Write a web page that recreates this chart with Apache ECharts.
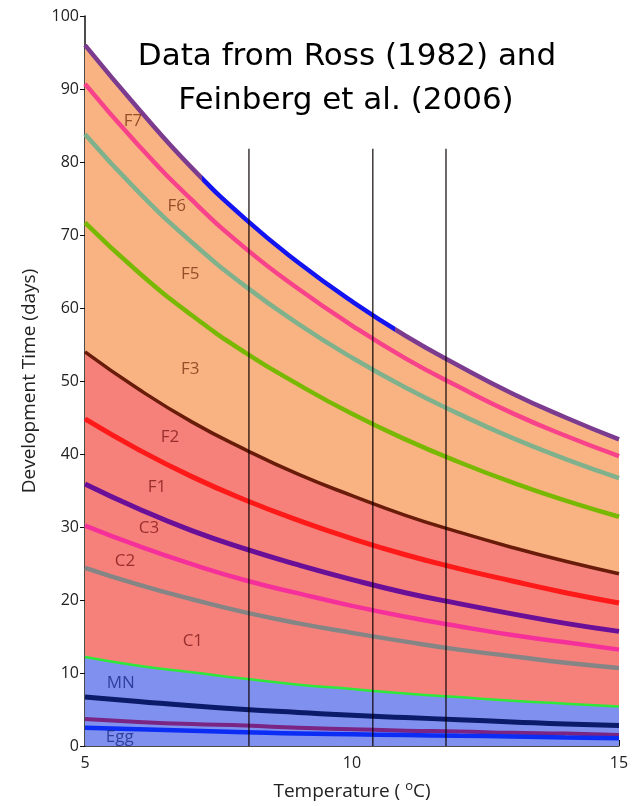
<!DOCTYPE html>
<html>
<head>
<meta charset="utf-8">
<script src="https://cdn.jsdelivr.net/npm/echarts@6/dist/echarts.min.js"></script>
<style>
  html, body { margin: 0; padding: 0; background: #fff; }
  #main { width: 638px; height: 806px; }
</style>
</head>
<body>
<div id="main"></div>
<script>
// temperature (°C) where the curves were read
var temps = [5, 6, 7, 8, 9, 10, 11, 12, 13, 14, 15];

// development time (days), top curve first
var adultTop = [96.0, 87.3, 79.2, 72.2, 66.2, 60.9, 56.2, 52.1, 48.3, 45.0, 42.0];
var f7 = [90.7, 82.3, 74.8, 68.2, 62.6, 57.6, 53.1, 49.2, 45.6, 42.5, 39.7];
var f6 = [83.8, 75.9, 69.0, 63.0, 57.8, 53.2, 49.1, 45.5, 42.2, 39.3, 36.7];
var f5 = [71.7, 64.9, 59.0, 53.9, 49.5, 45.5, 42.0, 38.9, 36.1, 33.6, 31.4];
var f3 = [54.0, 48.9, 44.4, 40.6, 37.2, 34.3, 31.6, 29.3, 27.2, 25.3, 23.6];
var f2 = [44.8, 40.6, 36.9, 33.7, 30.9, 28.4, 26.2, 24.3, 22.6, 21.0, 19.6];
var f1 = [35.9, 32.5, 29.5, 27.0, 24.8, 22.8, 21.0, 19.5, 18.1, 16.8, 15.7];
var c3 = [30.2, 27.4, 24.9, 22.7, 20.9, 19.2, 17.7, 16.4, 15.2, 14.2, 13.2];
var c2 = [24.4, 22.1, 20.1, 18.3, 16.8, 15.5, 14.3, 13.2, 12.3, 11.4, 10.7];
var c1 = [12.2, 11.0, 10.1, 9.2, 8.4, 7.8, 7.2, 6.7, 6.2, 5.8, 5.4];
var mn = [6.7, 6.1, 5.5, 5.0, 4.6, 4.2, 3.9, 3.6, 3.3, 3.0, 2.8];
var nauplius = [3.7, 3.3, 3.0, 2.8, 2.5, 2.3, 2.1, 2.0, 1.8, 1.7, 1.5];
var egg = [2.5, 2.3, 2.1, 1.9, 1.7, 1.6, 1.5, 1.4, 1.3, 1.15, 1.05];

// vertical marker lines
var vlineX = [8.07, 10.39, 11.76];
var vlineTop = 81.8;

// stage labels
var labelNames = ['F7', 'F6', 'F5', 'F3', 'F2', 'F1', 'C3', 'C2', 'C1', 'MN', 'Egg'];
var labelX = [5.9, 6.72, 6.97, 6.97, 6.59, 6.35, 6.2, 5.75, 7.02, 5.67, 5.65];
var labelY = [85.6, 74.0, 64.6, 51.6, 42.3, 35.4, 29.9, 25.3, 14.4, 8.6, 1.2];
var labelColors = ['#7e3512', '#7e3512', '#7e3512', '#7e3512', '#821818', '#821818',
                   '#821818', '#821818', '#821818', '#1a2a8c', '#1a2a8c'];

function pairs(ys) {
  var out = []
  for (var i = 0; i < temps.length; i++) {
    out.push([temps[i], ys[i]])
  }
  return out
}

function area(ys, color) {
  return {
    type: 'line',
    data: pairs(ys),
    smooth: true,
    symbol: 'none',
    lineStyle: { width: 0 },
    areaStyle: { color: color, opacity: 1 },
    z: 1,
    silent: true
  }
}

function curve(ys, color, width) {
  var s = {
    type: 'line',
    data: pairs(ys),
    smooth: true,
    symbol: 'none',
    lineStyle: { width: width || 4.5 },
    z: 4,
    silent: true
  }
  if (color) s.lineStyle.color = color
  return s
}

var series = [
  area(adultTop, '#f9b383'),
  area(f3, '#f6817b'),
  area(c1, '#8090ef')
]

// vertical lines
for (var v = 0; v < vlineX.length; v++) {
  series.push({
    type: 'line',
    data: [[vlineX[v], 0], [vlineX[v], vlineTop]],
    symbol: 'none',
    lineStyle: { color: 'rgba(10,0,0,0.9)', width: 1.3 },
    z: 5,
    silent: true
  })
}

// top curve gets its colour from the visualMap (purple / blue / purple)
series.push(curve(adultTop, null, 4.5))
var topIndex = series.length - 1
series.push(curve(f7, '#f8428a'))
series.push(curve(f6, '#7fb18c'))
series.push(curve(f5, '#78b800'))
series.push(curve(f3, '#6a1c0a', 3.5))
series.push(curve(f2, '#ff1a1a', 5))
series.push(curve(f1, '#6a0f98', 5))
series.push(curve(c3, '#f5309a', 4.5))
series.push(curve(c2, '#858585', 4.5))
series.push(curve(c1, '#2ee83a', 2.5))
series.push(curve(mn, '#0c1a6a', 5))
series.push(curve(nauplius, '#7a2484', 4))
series.push(curve(egg, '#0a2cf5', 4.5))

// stage labels
var labelData = []
for (var k = 0; k < labelNames.length; k++) {
  labelData.push({
    value: [labelX[k], labelY[k]],
    name: labelNames[k],
    label: { color: labelColors[k] }
  })
}
series.push({
  type: 'scatter',
  data: labelData,
  symbolSize: 1,
  itemStyle: { color: 'transparent' },
  label: {
    show: true,
    position: 'inside',
    formatter: '{b}',
    fontFamily: 'Open Sans',
    fontSize: 17
  },
  z: 6,
  silent: true
})

var chart = echarts.init(document.getElementById('main'))
chart.setOption({
  animation: false,
  backgroundColor: '#fff',
  grid: { left: 85, right: 19, top: 16, bottom: 55 },
  visualMap: {
    show: false,
    type: 'piecewise',
    seriesIndex: topIndex,
    dimension: 0,
    pieces: [
      { lt: 7.2, color: '#7b3c90' },
      { gte: 7.2, lt: 10.8, color: '#1414f0' },
      { gte: 10.8, color: '#7b3c90' }
    ]
  },
  graphic: [
    {
      type: 'text', x: 347, y: 57, z: 10,
      style: {
        text: 'Data from Ross (1982) and',
        fontFamily: 'Comic Sans MS, DejaVu Sans',
        fontSize: 31, fill: '#000',
        textAlign: 'center', textVerticalAlign: 'middle'
      }
    },
    {
      type: 'text', x: 346, y: 101, z: 10,
      style: {
        text: 'Feinberg et al. (2006)',
        fontFamily: 'Comic Sans MS, DejaVu Sans',
        fontSize: 31, fill: '#000',
        textAlign: 'center', textVerticalAlign: 'middle'
      }
    }
  ],
  xAxis: {
    type: 'value',
    min: 5,
    max: 15,
    interval: 5,
    name: 'Temperature ( {s|o}C)',
    nameLocation: 'middle',
    nameGap: 34,
    nameTextStyle: {
      fontFamily: 'Open Sans', fontSize: 19, color: '#222',
      rich: { s: { fontFamily: 'Open Sans', fontSize: 13, verticalAlign: 'top', padding: [0, 0, 10, 0], color: '#222' } }
    },
    splitLine: { show: false },
    axisLine: { onZero: false, lineStyle: { color: '#111', width: 1.5 } },
    axisTick: { inside: true, length: 6, lineStyle: { color: '#111' } },
    axisLabel: { fontFamily: 'Open Sans', fontSize: 16, color: '#222', margin: 9 }
  },
  yAxis: {
    type: 'value',
    min: 0,
    max: 100,
    interval: 10,
    name: 'Development Time (days)',
    nameLocation: 'middle',
    nameGap: 46,
    nameTextStyle: { fontFamily: 'Open Sans', fontSize: 19, color: '#222' },
    splitLine: { show: false },
    axisLine: { show: true, lineStyle: { color: '#111', width: 1.5 } },
    axisTick: { show: true, length: 5, lineStyle: { color: '#111' } },
    axisLabel: { fontFamily: 'Open Sans', fontSize: 16, color: '#222', margin: 6 }
  },
  series: series
})
</script>
</body>
</html>
